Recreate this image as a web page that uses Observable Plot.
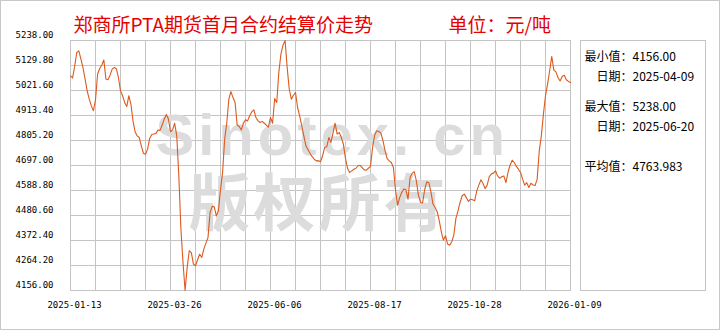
<!DOCTYPE html>
<html><head><meta charset="utf-8">
<script src="https://cdn.jsdelivr.net/npm/d3@7"></script>
<script src="https://cdn.jsdelivr.net/npm/@observablehq/plot@0.6"></script>
<style>
html,body{margin:0;padding:0;background:#fff;}
#wrap{position:relative;width:720px;height:330px;overflow:hidden;background:#fff;}
#chart{position:absolute;left:0;top:0;}
#panel{position:absolute;left:580px;top:40px;width:124px;height:249px;border:1px solid #c4c4c4;}
#border{position:absolute;left:0;top:0;width:718px;height:328px;border:1px solid #c8c8c8;pointer-events:none;}
</style></head><body>
<div id="wrap"><div id="panel"></div><div id="chart"></div><div id="border"></div></div>
<script>
// ---- data ----
const xLabels = ["2025-01-13", "2025-03-26", "2025-06-06", "2025-08-17", "2025-10-28", "2026-01-09"];
const prices = [
  5085, 5076, 5126, 5186, 5193, 5157, 5121, 5071, 5020, 4984,
  4955, 4934, 4981, 5092, 5117, 5131, 5154, 5071, 5068, 5088,
  5114, 5121, 5116, 5078, 5020, 4999, 4970, 4952, 4999, 4962,
  4890, 4843, 4825, 4818, 4782, 4750, 4746, 4768, 4814, 4831,
  4833, 4836, 4851, 4849, 4872, 4898, 4918, 4898, 4843, 4851,
  4880, 4825, 4652, 4421, 4277, 4156, 4256, 4328, 4320, 4270,
  4263, 4289, 4313, 4299, 4335, 4361, 4385, 4494, 4520, 4518,
  4479, 4501, 4592, 4667, 4811, 4880, 4984, 5017, 4991, 4970,
  4872, 4866, 4851, 4880, 4895, 4890, 4912, 4929, 4938, 4905,
  4890, 4883, 4888, 4880, 4872, 4863, 4905, 4880, 4987, 4970,
  5100, 5179, 5218, 5238, 5121, 5027, 4984, 5001, 5013, 4948,
  4912, 4869, 4825, 4782, 4765, 4749, 4735, 4724, 4717, 4718,
  4713, 4739, 4775, 4778, 4818, 4797, 4837, 4880, 4833, 4840,
  4818, 4789, 4727, 4684, 4667, 4674, 4681, 4685, 4696, 4698,
  4688, 4678, 4677, 4685, 4693, 4775, 4828, 4847, 4844, 4837,
  4804, 4760, 4727, 4717, 4710, 4688, 4592, 4525, 4558, 4580,
  4595, 4592, 4551, 4645, 4664, 4670, 4631, 4569, 4537, 4535,
  4592, 4626, 4623, 4583, 4530, 4515, 4497, 4458, 4410, 4374,
  4393, 4357, 4352, 4367, 4396, 4468, 4501, 4537, 4566, 4573,
  4558, 4541, 4551, 4549, 4544, 4587, 4612, 4635, 4619, 4597,
  4612, 4649, 4660, 4664, 4674, 4652, 4642, 4648, 4652, 4623,
  4667, 4698, 4720, 4710, 4693, 4681, 4667, 4638, 4612, 4623,
  4602, 4620, 4613, 4610, 4638, 4760, 4825, 4919, 4999, 5049,
  5107, 5169, 5110, 5102, 5078, 5063, 5082, 5088, 5068, 5061,
  5056
];
const title = ["郑商所PTA期货首月合约结算价走势"];
const unit = ["单位：元/吨"];
const statNames = ["最小值：", "日期：", "最大值：", "日期：", "平均值："];
const statValues = ["4156.00", "2025-04-09", "5238.00", "2025-06-20", "4763.983"];
const watermark = ["Sinotex. cn", "版权所有"];

// ---- layout ----
const N = prices.length;
const [yMin, yMax] = d3.extent(prices);
const yTicks = d3.range(11).map(k => yMin + k * (yMax - yMin) / 10);
const xStep = (N - 1) / 5;
const xTicks = d3.range(6).map(k => k * xStep);
const xGrid = d3.range(21).map(k => k * (N - 1) / 20);
const gridColor = "#c4c4c4";
const statDx = [514, 526, 514, 526, 514];
const statDy = [20, 40, 70, 90, 130];
const cjk = "Noto Sans CJK SC";

const statMarks = statNames.map((name, i) =>
  Plot.text([name + statValues[i]], {
    text: d => d, frameAnchor: "top-left", dx: statDx[i], dy: statDy[i],
    lineAnchor: "bottom", textAnchor: "start", fontSize: 12, fontFamily: cjk, fill: "#000"
  })
);

const plot = Plot.plot({
  width: 720, height: 330,
  marginLeft: 70, marginRight: 150, marginTop: 40, marginBottom: 40,
  style: {fontFamily: "DejaVu Sans Mono", fontSize: "9px", color: "#000", background: "transparent", overflow: "visible"},
  x: {domain: [0, N - 1]},
  y: {domain: [yMin, yMax]},
  marks: [
    Plot.gridX(xGrid, {stroke: gridColor, strokeOpacity: 1}),
    Plot.gridY(yTicks, {stroke: gridColor, strokeOpacity: 1}),
    Plot.text([watermark.join("\n")], {text: d => d, frameAnchor: "top-left", dx: 85, dy: 114, lineAnchor: "top", textAnchor: "start",
      fontSize: 58, fontWeight: "bold", fontFamily: "Liberation Sans", fill: "#dcdcdc"}),
    Plot.frame({stroke: gridColor}),
    Plot.lineY(prices, {x: (d, i) => i, y: d => d, stroke: "#dc5a1e", strokeWidth: 1.1}),
    Plot.axisX(xTicks, {tickFormat: d => xLabels[Math.round(d / xStep)], tickSize: 0, tickPadding: 11, dx: 4, fill: "#000"}),
    Plot.axisY(yTicks, {tickFormat: d => d.toFixed(2), tickSize: 0, tickPadding: 17, dy: -5, fill: "#000"}),
    Plot.text(title, {text: d => d, frameAnchor: "top-left", dx: 3, dy: -9, lineAnchor: "bottom", textAnchor: "start",
      fontSize: 19, fontFamily: cjk, fill: "#e60000"}),
    Plot.text(unit, {text: d => d, frameAnchor: "top-left", dx: 378, dy: -9, lineAnchor: "bottom", textAnchor: "start",
      fontSize: 19, fontFamily: cjk, fill: "#e60000"}),
    ...statMarks
  ]
});
// style the two watermark lines individually (one text element, two tspans)
d3.select(plot).selectAll("text").filter(function () { return this.textContent === watermark.join(""); })
  .each(function () {
    const ts = d3.select(this).selectAll("tspan").nodes();
    if (ts.length === 2) {
      d3.select(ts[0]).attr("x", 0).attr("y", 0).attr("dy", null)
        .style("font-family", "Liberation Sans").style("font-size", "58px").style("font-weight", "bold").style("letter-spacing", "4px");
      d3.select(ts[1]).attr("x", 33).attr("y", 71).attr("dy", null)
        .style("font-family", cjk).style("font-size", "62px").style("font-weight", "bold").style("letter-spacing", "3px");
    }
  });
document.getElementById("chart").appendChild(plot);
</script>
</body></html>
